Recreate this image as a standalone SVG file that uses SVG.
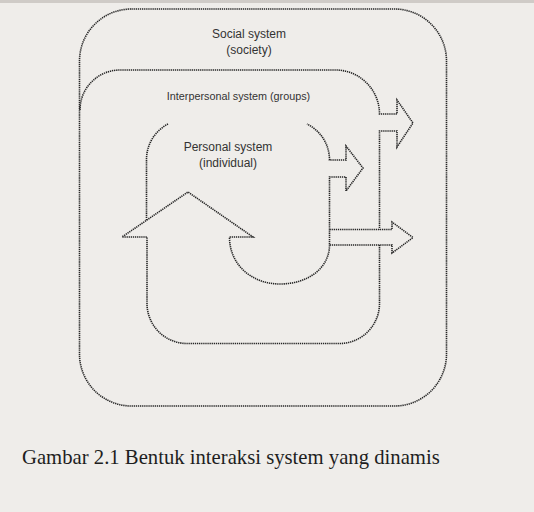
<svg xmlns="http://www.w3.org/2000/svg" width="534" height="512" viewBox="0 0 534 512">
  <style>
    .dot { fill: none; stroke: #262626; stroke-width: 1.6; stroke-dasharray: 1.3 0.8; stroke-linejoin: miter; }
    .lbl { font-family: "Liberation Sans", Arial, sans-serif; fill: #333; text-anchor: middle; }
    .cap { font-family: "Liberation Serif", "Times New Roman", serif; fill: #1e1e1e; font-size: 20.7px; }
  </style>
  <rect x="0" y="0" width="534" height="512" fill="#efedea"/>
  <rect x="0" y="0" width="534" height="3" fill="#cfcbc7"/>

  <g id="social-system">
    <rect class="dot" x="79.5" y="9" width="367" height="397" rx="52" ry="52"/>
    <text class="lbl" x="249" y="38" font-size="12">Social system</text>
    <text class="lbl" x="249" y="54" font-size="12">(society)</text>
  </g>

  <g id="interpersonal-system">
    <path class="dot" d="M80,110 A40,40 0 0 1 120,70 L335,70 A44,44 0 0 1 379.5,114 L397,114 L397,100 L413,123 L397,147 L397,131 L379.5,131 L379.5,229.5"/>
    <text class="lbl" x="238.5" y="100" font-size="10.8">Interpersonal system (groups)</text>
  </g>

  <g id="personal-system">
    <path class="dot" d="M168,124 A40,40 0 0 0 146.5,160 L146.5,220.5"/>
    <path class="dot" d="M379.5,245 L379.5,303 A40,40 0 0 1 339.5,343.5 L187,343.5 A40,40 0 0 1 147,303.5 L147,237 L122,237 L188,192 L253,237 L229.5,237 C229.5,265 252,284 280,284 C308,284 329.5,268 329.5,245 L329.5,177 L346,177 L346,191 L363,168 L346,146 L346,160 L329.5,160 A40,40 0 0 0 307,124"/>
    <text class="lbl" x="228" y="151" font-size="12">Personal system</text>
    <text class="lbl" x="228" y="167" font-size="12">(individual)</text>
  </g>

  <g id="connectors">
    <path class="dot" d="M329.5,229.5 L392,229.5 L392,222 L413,237.5 L392,253 L392,245 L329.5,245"/>
  </g>

  <text class="cap" x="22" y="464">Gambar 2.1 Bentuk interaksi system yang dinamis</text>
</svg>
